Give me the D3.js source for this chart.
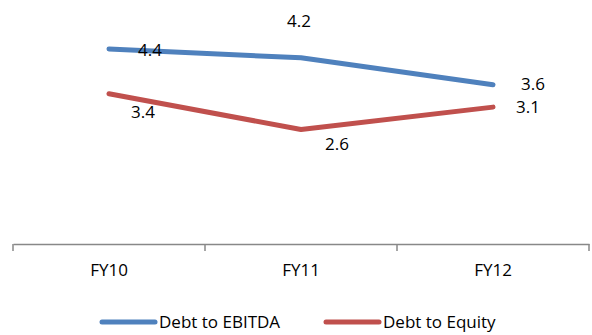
<!DOCTYPE html>
<html lang="en">
  <head>
    <meta charset="UTF-8" />
    <title>Debt ratios</title>
    <script src="https://cdn.jsdelivr.net/npm/d3@7"></script>
    <style>
      body {
        margin: 0;
        background: #fff;
      }
      svg {
        font-family: "Open Sans", "Liberation Sans", sans-serif;
      }
    </style>
  </head>
  <body>
    <script>
      const years = ["FY10", "FY11", "FY12"];
      const debtToEbitda = [4.4, 4.2, 3.6];
      const debtToEquity = [3.4, 2.6, 3.1];
      const seriesNames = ["Debt to EBITDA", "Debt to Equity"];
      const seriesColors = ["#4f81bd", "#c0504d"];
      // label offsets (dx, dy) mimic the odd Excel label placement
      const labelOffsets = [
        [[41, 7], [-2, -31], [40, 5]],
        [[34, 24], [36, 20], [35, 6]]
      ];

      const width = 592;
      const height = 335;
      const fontSize = 17;

      const x = d3.scaleBand().domain(years).range([13, 589]);
      const y = d3.scaleLinear().domain([0, 5]).range([246, 22]);

      const svg = d3
        .select("body")
        .append("svg")
        .attr("width", width)
        .attr("height", height);

      const xAxis = d3.axisBottom(x).tickSize(0).tickPadding(20);
      const gx = svg
        .append("g")
        .attr("transform", "translate(0,244)")
        .call(xAxis);
      gx.select(".domain").attr("stroke", "#888").attr("stroke-width", 1.5);
      gx.selectAll("text")
        .attr("font-size", fontSize)
        .attr("fill", "#000")
        .attr("font-family", "Open Sans");

      // category boundary ticks
      const bounds = years.map(d => x(d)).concat([x.range()[1]]);
      svg
        .append("g")
        .selectAll("line")
        .data(bounds)
        .join("line")
        .attr("x1", d => d)
        .attr("x2", d => d)
        .attr("y1", 244)
        .attr("y2", 251)
        .attr("stroke", "#888")
        .attr("stroke-width", 1.5);

      const line = d3
        .line()
        .x((d, i) => x(years[i]) + x.bandwidth() / 2)
        .y(d => y(d));

      const allSeries = [debtToEbitda, debtToEquity];

      svg
        .append("g")
        .selectAll("path")
        .data(allSeries)
        .join("path")
        .attr("d", d => line(d))
        .attr("fill", "none")
        .attr("stroke", (d, i) => seriesColors[i])
        .attr("stroke-width", 5)
        .attr("stroke-linecap", "round")
        .attr("stroke-linejoin", "round");

      allSeries.forEach((vals, s) => {
        svg
          .append("g")
          .selectAll("text")
          .data(vals)
          .join("text")
          .attr("x", (d, i) => x(years[i]) + x.bandwidth() / 2 + labelOffsets[s][i][0])
          .attr("y", (d, i) => y(d) + labelOffsets[s][i][1])
          .attr("text-anchor", "middle")
          .attr("font-size", fontSize)
          .attr("fill", "#000")
          .text(d => d.toFixed(1));
      });

      // legend
      const legend = svg.append("g").attr("transform", "translate(0,322)");
      const legendX = [102, 326];
      seriesNames.forEach((name, i) => {
        legend
          .append("line")
          .attr("x1", legendX[i])
          .attr("x2", legendX[i] + 53)
          .attr("stroke", seriesColors[i])
          .attr("stroke-width", 5)
          .attr("stroke-linecap", "round");
        legend
          .append("text")
          .attr("x", legendX[i] + 57)
          .attr("y", 6)
          .attr("font-size", fontSize)
          .attr("fill", "#000")
          .text(name);
      });
    </script>
  </body>
</html>
